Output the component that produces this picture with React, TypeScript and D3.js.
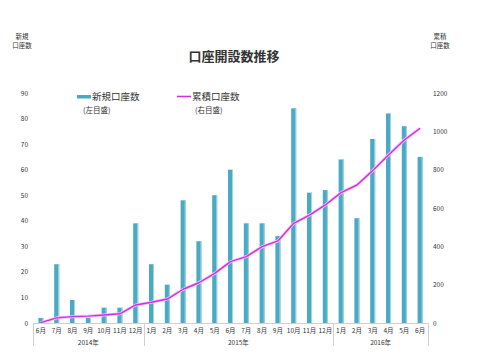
import React, { useEffect, useRef } from 'react';
import * as d3 from 'd3';

const months = ['6月', '7月', '8月', '9月', '10月', '11月', '12月', '1月', '2月', '3月', '4月', '5月', '6月', '7月', '8月', '9月', '10月', '11月', '12月', '1月', '2月', '3月', '4月', '5月', '6月'];
const yearLabels = ['2014年', '2015年', '2016年'];
const yearSpans = [[0, 6], [7, 18], [19, 24]];
const newAccounts = [2, 23, 9, 2, 6, 6, 39, 23, 15, 48, 32, 50, 60, 39, 39, 34, 84, 51, 52, 64, 41, 72, 82, 77, 65];
const cumulative = [2, 27, 33, 36, 42, 48, 94, 108, 125, 176, 210, 259, 320, 346, 398, 428, 520, 563, 616, 680, 720, 795, 877, 955, 1016];
const leftTicks = [0, 10, 20, 30, 40, 50, 60, 70, 80, 90];
const rightTicks = [0, 200, 400, 600, 800, 1000, 1200];

const FONT = '"Noto Sans CJK JP", "Noto Sans", sans-serif';
const BAR = '#4aa9c3';
const LINE = '#d22fe0';

const App = () => {
  const svgRef = useRef<SVGSVGElement>(null);

  useEffect(() => {
    const svg = d3.select(svgRef.current);
    svg.selectAll('*').remove();

    const x0 = 33, x1 = 428, yTop = 93, yBot = 323;
    const x = d3.scaleBand<number>().domain(d3.range(months.length)).range([x0, x1]);
    const yL = d3.scaleLinear().domain([0, 90]).range([yBot, yTop]);
    const yR = d3.scaleLinear().domain([0, 1200]).range([yBot, yTop]);
    const cx = (i: number) => (x(i) as number) + x.bandwidth() / 2;

    // title
    svg.append('text')
      .attr('x', 234).attr('y', 61)
      .attr('text-anchor', 'middle')
      .style('font-family', FONT).style('font-size', '13px').style('font-weight', 'bold')
      .attr('fill', '#333')
      .text('口座開設数推移');

    // axis titles
    [['新規', '口座数', 22], ['累積', '口座数', 440]].forEach(([a, b, px]) => {
      const t = svg.append('text')
        .attr('text-anchor', 'middle')
        .style('font-family', FONT).style('font-size', '6.5px').attr('fill', '#333');
      t.append('tspan').attr('x', px as number).attr('y', 39).text(a as string);
      t.append('tspan').attr('x', px as number).attr('y', 48).text(b as string);
    });

    // left ticks
    svg.append('g').selectAll('text').data(leftTicks).enter().append('text')
      .attr('x', 28).attr('y', d => yL(d) + 2.5)
      .attr('text-anchor', 'end')
      .style('font-family', FONT).style('font-size', '6.5px').attr('fill', '#333')
      .text(d => d);

    // right ticks
    svg.append('g').selectAll('text').data(rightTicks).enter().append('text')
      .attr('x', 433).attr('y', d => yR(d) + 2.5)
      .attr('text-anchor', 'start')
      .style('font-family', FONT).style('font-size', '6.5px').attr('fill', '#333')
      .text(d => d);

    // baseline
    svg.append('line')
      .attr('x1', x0).attr('x2', x1).attr('y1', yBot + 0.5).attr('y2', yBot + 0.5)
      .attr('stroke', '#d0d0d0').attr('stroke-width', 1);

    // bars
    const bw = 5;
    const bars = svg.append('g');
    bars.selectAll('rect.b').data(newAccounts).enter().append('rect')
      .attr('class', 'b')
      .attr('x', (d, i) => cx(i) - bw / 2)
      .attr('y', d => yL(d))
      .attr('width', bw)
      .attr('height', d => yBot - yL(d))
      .attr('fill', BAR);
    bars.selectAll('rect.h').data(newAccounts).enter().append('rect')
      .attr('class', 'h')
      .attr('x', (d, i) => cx(i) + bw / 2 - 1)
      .attr('y', d => yL(d))
      .attr('width', 1)
      .attr('height', d => yBot - yL(d))
      .attr('fill', '#9fd6e3');

    // cumulative line
    const line = d3.line<number>().x((d, i) => cx(i)).y(d => yR(d));
    svg.append('path').datum(cumulative)
      .attr('d', line).attr('fill', 'none')
      .attr('stroke', '#f4c4f7').attr('stroke-width', 3).attr('stroke-linejoin', 'round');
    svg.append('path').datum(cumulative)
      .attr('d', line).attr('fill', 'none')
      .attr('stroke', LINE).attr('stroke-width', 1.4).attr('stroke-linejoin', 'round');

    // month labels
    svg.append('g').selectAll('text').data(months).enter().append('text')
      .attr('x', (d, i) => cx(i)).attr('y', 333)
      .attr('text-anchor', 'middle')
      .style('font-family', FONT).style('font-size', '6.5px').attr('fill', '#333')
      .text(d => d);

    // year separators
    const seps = [x0, ...yearSpans.slice(1).map(s => x(s[0]) as number), x1];
    svg.append('g').selectAll('line').data(seps).enter().append('line')
      .attr('x1', d => Math.round(d) + 0.5).attr('x2', d => Math.round(d) + 0.5)
      .attr('y1', yBot).attr('y2', 346)
      .attr('stroke', '#d0d0d0').attr('stroke-width', 1);

    svg.append('g').selectAll('text').data(yearLabels).enter().append('text')
      .attr('x', (d, i) => ((x(yearSpans[i][0]) as number) + (x(yearSpans[i][1]) as number) + x.bandwidth()) / 2)
      .attr('y', 345)
      .attr('text-anchor', 'middle')
      .style('font-family', FONT).style('font-size', '6.5px').attr('fill', '#333')
      .text(d => d);

    // legend
    svg.append('rect').attr('x', 77).attr('y', 95).attr('width', 14).attr('height', 3.5).attr('fill', BAR);
    svg.append('text').attr('x', 92).attr('y', 100)
      .style('font-family', FONT).style('font-size', '9.5px').attr('fill', '#333').text('新規口座数');
    svg.append('text').attr('x', 83).attr('y', 113)
      .style('font-family', FONT).style('font-size', '7.5px').attr('fill', '#333').text('(左目盛)');
    svg.append('line').attr('x1', 177).attr('x2', 191).attr('y1', 96.5).attr('y2', 96.5)
      .attr('stroke', LINE).attr('stroke-width', 1.6);
    svg.append('text').attr('x', 192).attr('y', 100)
      .style('font-family', FONT).style('font-size', '9.5px').attr('fill', '#333').text('累積口座数');
    svg.append('text').attr('x', 195).attr('y', 113)
      .style('font-family', FONT).style('font-size', '7.5px').attr('fill', '#333').text('(右目盛)');
  }, []);

  return (
    <svg ref={svgRef} width={480} height={360}
      style={{ position: 'absolute', left: 0, top: 0, background: '#fff' }} />
  );
};

export default App;
